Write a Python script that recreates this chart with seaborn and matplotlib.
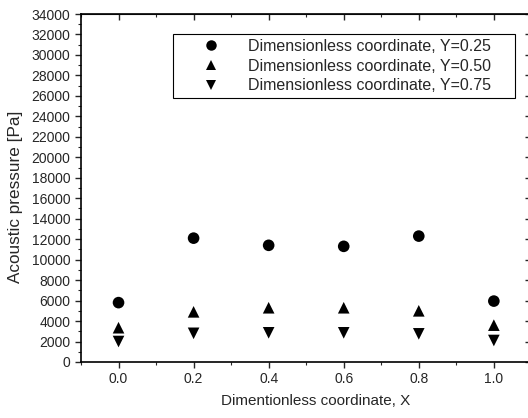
import matplotlib
matplotlib.use("Agg")
import matplotlib.pyplot as plt
import seaborn as sns
import pandas as pd
from matplotlib.ticker import MultipleLocator

x_vals = [0.0, 0.2, 0.4, 0.6, 0.8, 1.0]
y025 = [5800, 12100, 11400, 11300, 12300, 5950]
y050 = [3350, 4900, 5300, 5300, 5000, 3600]
y075 = [2000, 2800, 2850, 2850, 2750, 2100]
labels = ["Dimensionless coordinate, Y=0.25",
          "Dimensionless coordinate, Y=0.50",
          "Dimensionless coordinate, Y=0.75"]

df = pd.concat([
    pd.DataFrame({"x": x_vals, "p": y025, "s": labels[0]}),
    pd.DataFrame({"x": x_vals, "p": y050, "s": labels[1]}),
    pd.DataFrame({"x": x_vals, "p": y075, "s": labels[2]}),
])

sns.set_style("ticks")
plt.rcParams['font.family'] = ['Liberation Sans', 'DejaVu Sans']

fig = plt.figure(figsize=(5.28, 4.18), dpi=100)
ax = fig.add_axes([0.1534, 0.134, 0.853, 0.8325])

sns.scatterplot(data=df, x="x", y="p", style="s", hue="s",
                palette=["black"] * 3, markers=["o", "^", "v"],
                s=70, edgecolor="black", linewidth=0, ax=ax, legend=True)

ax.set_xlim(-0.1, 1.1)
ax.set_ylim(0, 34000)
ax.xaxis.set_major_locator(MultipleLocator(0.2))
ax.xaxis.set_minor_locator(MultipleLocator(0.1))
ax.yaxis.set_major_locator(MultipleLocator(2000))
ax.yaxis.set_minor_locator(MultipleLocator(1000))
ax.set_xticks([0.0, 0.2, 0.4, 0.6, 0.8, 1.0])
ax.set_xticklabels(["0.0", "0.2", "0.4", "0.6", "0.8", "1.0"])

ax.tick_params(axis="both", which="major", direction="out", length=4, width=1,
               labelsize=10, top=False, right=False)
ax.tick_params(axis="both", which="minor", direction="out", length=2.5, width=0.8,
               top=False, right=False)

sec_x = ax.secondary_xaxis("top")
sec_x.xaxis.set_major_locator(MultipleLocator(0.2))
sec_x.xaxis.set_minor_locator(MultipleLocator(0.1))
sec_x.tick_params(which="major", direction="in", length=4, width=1, labeltop=False)
sec_x.tick_params(which="minor", direction="in", length=2.5, width=0.8, labeltop=False)

sec_y = ax.secondary_yaxis("right")
sec_y.yaxis.set_major_locator(MultipleLocator(2000))
sec_y.yaxis.set_minor_locator(MultipleLocator(1000))
sec_y.tick_params(which="major", direction="in", length=4, width=1, labelright=False)
sec_y.tick_params(which="minor", direction="in", length=2.5, width=0.8, labelright=False)

for sp in ax.spines.values():
    sp.set_linewidth(1.2)
    sp.set_color("black")

ax.set_xlabel("Dimentionless coordinate, X", fontsize=11)
ax.xaxis.set_label_coords(0.522, -0.093)
ax.set_ylabel("Acoustic pressure [Pa]", fontsize=12.3)
ax.yaxis.set_label_coords(-0.129, 0.476)

handles, labs = ax.get_legend_handles_labels()
leg = ax.legend(handles, labs, loc="upper left",
                bbox_to_anchor=(0.2036, 0.9425, 0.76, 0.0),
                mode="expand",
                borderaxespad=0, fontsize=11.5, frameon=True, fancybox=False,
                edgecolor="black", framealpha=1, handletextpad=0.2,
                labelspacing=0.3, borderpad=0.3, markerscale=0.9,
                handlelength=4.2)
leg.get_frame().set_linewidth(0.8)

fig.savefig("out.png", dpi=100)
